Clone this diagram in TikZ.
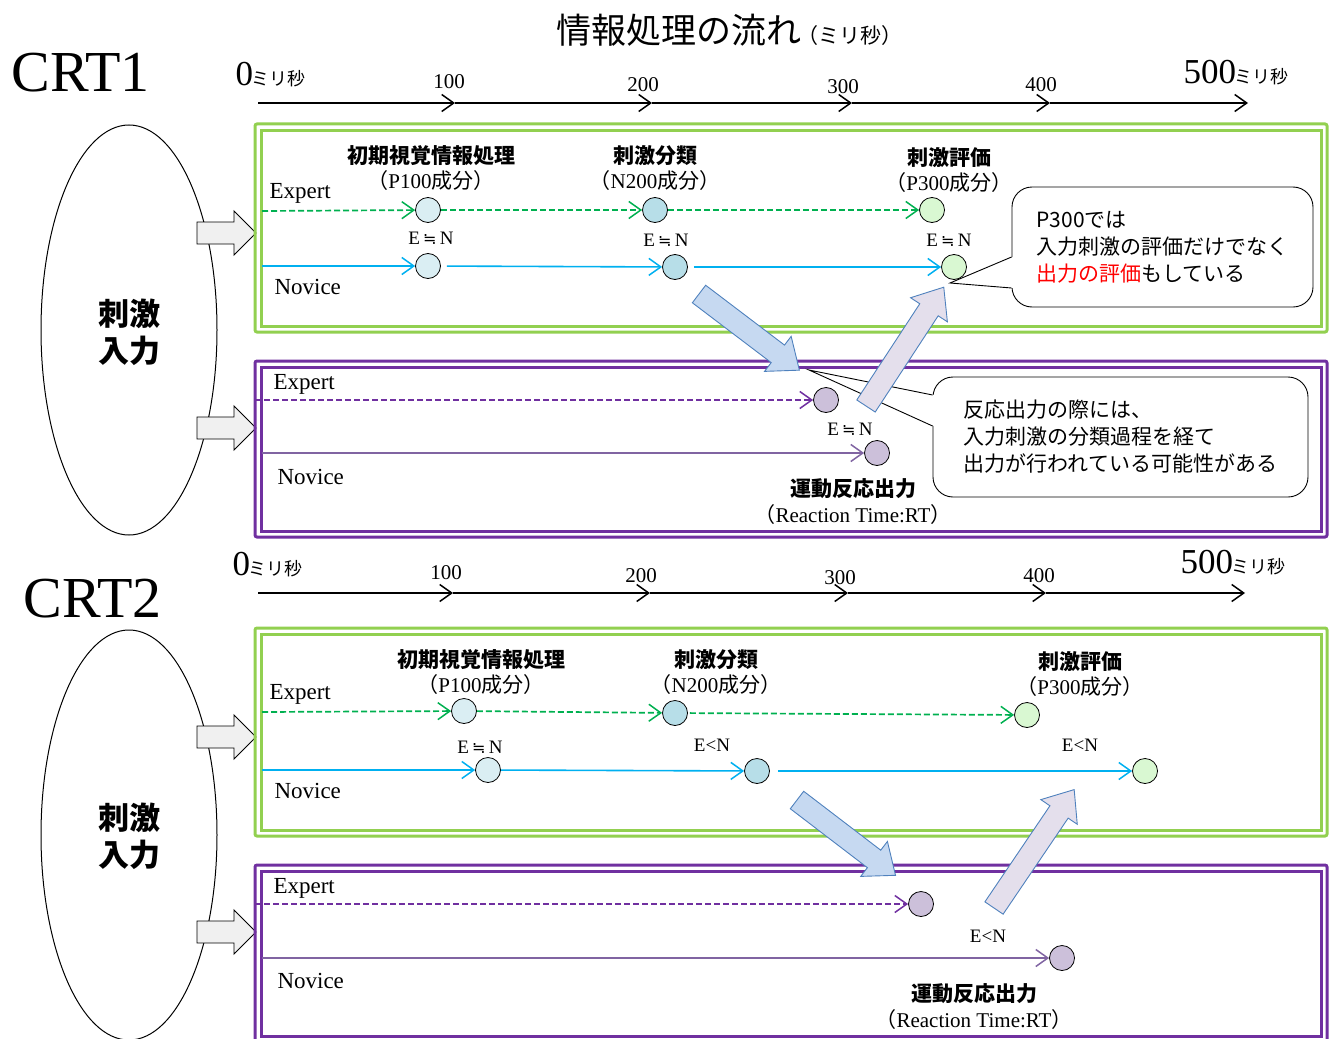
\documentclass[tikz,border=0pt]{standalone}
\usepackage{fontspec}
\setmainfont{Liberation Serif}
\newfontfamily\jp{Noto Sans CJK JP}
\newfontfamily\dv{DejaVu Sans}
\usetikzlibrary{arrows.meta,calc}
\definecolor{gbox}{HTML}{92D050}
\definecolor{pbox}{HTML}{7030A0}
\definecolor{gline}{HTML}{00B050}
\definecolor{cline}{HTML}{00B0F0}
\definecolor{pline}{HTML}{8064A2}
\definecolor{dotA}{HTML}{DAEEF3}
\definecolor{dotB}{HTML}{B7DEE8}
\definecolor{dotC}{HTML}{D9F8D2}
\definecolor{dotP}{HTML}{CCC0DA}
\definecolor{barA}{HTML}{C6D9F1}
\definecolor{barB}{HTML}{E4DFEC}
\definecolor{barEdge}{HTML}{4F81BD}
\newcommand\blkarrow[5]{%
  \draw[barEdge, line width=0.9pt, fill=#5, shift={(#1,#2)}, rotate=#3]
   (0,-11) -- ({#4-27},-11) -- ({#4-27},-22) -- (#4,0) -- ({#4-27},22) -- ({#4-27},11) -- (0,11) -- cycle;}
\newcommand\fatarrow[1]{%
  \draw[line width=0.9pt, fill=black!6] (197,#1-11) -- (234,#1-11) -- (234,#1-22) -- (256,#1) -- (234,#1+22) -- (234,#1+11) -- (197,#1+11) -- cycle;}
\newcommand\approxeq{E\,{\dv\fontsize{16}{18}\selectfont ≒}\,N}
\begin{document}
\begin{tikzpicture}[x=1pt,y=-1pt,
  tip/.style={-{Straight Barb[length=12pt,width=17pt,line width=1.5pt]}},
  tline/.style={tip, line width=1.4pt, black},
  gexp/.style={tip, gline, line width=1.7pt, dash pattern=on 6pt off 3pt},
  nov/.style={tip, cline, line width=1.6pt},
  pexp/.style={tip, pbox, line width=1.7pt, dash pattern=on 6pt off 3pt},
  pnov/.style={tip, pline, line width=1.6pt},
  dot/.style={circle, draw, line width=0.8pt, minimum size=25pt, inner sep=0pt},
  gbx/.style={gbox, line width=3pt},
  pbx/.style={pbox, line width=3pt},
  lbl/.style={font=\fontsize{23}{26}\selectfont},
  hd/.style={font=\jp\bfseries\fontsize{21}{24}\selectfont},
  sub/.style={font=\fontsize{21}{24}\selectfont},
  eqn/.style={font=\fontsize{19}{20}\selectfont},
  num/.style={font=\fontsize{21}{24}\selectfont, anchor=base},
  big/.style={font=\fontsize{35}{38}\selectfont, anchor=base west},
  crt/.style={font=\fontsize{58}{60}\selectfont, anchor=base west},
  stim/.style={font=\jp\bfseries\fontsize{31}{37}\selectfont, align=center},
  callbox/.style={draw, fill=white, rounded corners=20pt, line width=0.9pt, inner sep=0pt, align=left,
     font=\jp\fontsize{21}{27}\selectfont},
]
\useasboundingbox (0,0) rectangle (1332,1038);
\clip (0,0) rectangle (1332,1038);
\newcommand\ms{{\jp\fontsize{18}{20}\selectfont\hspace{-2pt}ミリ秒}}

% ---------- title ----------
\node[font=\jp\fontsize{35}{38}\selectfont] (title) at (729,30) {情報処理の流れ{\fontsize{21}{24}\selectfont\hspace{-4pt}（ミリ秒）}};

% ================= CRT1 =================
\node[crt] (crt1) at (8,92) {CRT1};
\node[big] (z1) at (232,86) {0\ms};
\node[big] (f1) at (1180,84) {500\ms};
\node[num] (h1a) at (449,89) {100};
\node[num] (h1b) at (643,92) {200};
\node[num] (h1c) at (843,94) {300};
\node[num] (h1d) at (1041,92) {400};
\coordinate (t10) at (258,103); \coordinate (t11) at (455,103); \coordinate (t12) at (652,103);
\coordinate (t13) at (852,103); \coordinate (t14) at (1050,103); \coordinate (t15) at (1248,103);
\draw[tline] (t10) -- (t11); \draw[tline] (t11) -- (t12); \draw[tline] (t12) -- (t13);
\draw[tline] (t13) -- (t14); \draw[tline] (t14) -- (t15);

\draw[line width=1pt] (129,330) ellipse [x radius=88, y radius=205];
\node[stim] (s1) at (129,332) {刺激\\入力};
\fatarrow{233}
\fatarrow{428}

% green box 1
\draw[gbx, rounded corners=2pt] (255,124) rectangle (1327,332);
\draw[gbx] (261,130) rectangle (1321,326);
\node[hd] (a1) at (431,156) {初期視覚情報処理};
\node[sub] (a1s) at (431,181) {\jp（\rmfamily P100\jp 成分）};
\node[hd] (a2) at (655,156) {刺激分類};
\node[sub] (a2s) at (655,181) {\jp（\rmfamily N200\jp 成分）};
\node[hd] (a3) at (949,158) {刺激評価};
\node[sub] (a3s) at (949,183) {\jp（\rmfamily P300\jp 成分）};
\node[lbl, anchor=west] (ex1) at (266,193) {Expert};
\node[lbl, anchor=west] (nv1) at (271,287) {Novice};
\node[dot, fill=dotA] (e11) at (428,210) {};
\node[dot, fill=dotB] (e12) at (655,210) {};
\node[dot, fill=dotC] (e13) at (932,210) {};
\node[dot, fill=dotA] (n11) at (428,266) {};
\node[dot, fill=dotB] (n12) at (675,267) {};
\node[dot, fill=dotC] (n13) at (954,267) {};
\coordinate (se1) at (262,211); \coordinate (sn1) at (262,266);
\draw[gexp] (se1) -- (e11);
\draw[gexp] (e11) -- (e12);
\draw[gexp] (e12) -- (e13);
\draw[nov] (sn1) -- (n11);
\draw[nov, shorten <=6pt] (n11) -- (n12);
\draw[nov, shorten <=6pt] (n12) -- (n13);
\node[eqn] (q11) at (431,238) {\approxeq};
\node[eqn] (q12) at (666,240) {\approxeq};
\node[eqn] (q13) at (949,240) {\approxeq};

% purple box 1
\draw[pbx, rounded corners=2pt] (255,361) rectangle (1327,537);
\draw[pbx] (261,367) rectangle (1321,531);
\node[lbl, anchor=west] (ex2) at (270,384) {Expert};
\node[lbl, anchor=west] (nv2) at (274,477) {Novice};
\node[dot, fill=dotP] (m11) at (826,400) {};
\node[dot, fill=dotP] (m12) at (877,453) {};
\coordinate (sp1) at (255,400); \coordinate (sq1) at (262,453);
\draw[pexp] (sp1) -- (m11);
\draw[pnov] (sq1) -- (m12);
\node[eqn] (q14) at (850,429) {\approxeq};
\node[hd] (r1) at (853,489) {運動反応出力};
\node[sub] (r1s) at (853,515) {\jp（\rmfamily Reaction Time:RT\jp ）};

% callouts 1
\node[callbox, minimum width=301pt, minimum height=120pt] (cb1) at (1162.5,247)
  {P300では\\入力刺激の評価だけでなく\\\textcolor{red}{出力の評価}もしている};
\coordinate (tip1) at (950,283);
\fill[white] ($(cb1.west)+(1.5,10)$) -- (tip1) -- ($(cb1.west)+(1.5,41)$) -- cycle;
\draw[line width=0.9pt] ($(cb1.west)+(0,10)$) -- (tip1) -- ($(cb1.west)+(0,41)$);

\node[callbox, minimum width=375pt, minimum height=120pt] (cb2) at (1120.5,437)
  {反応出力の際には、\\入力刺激の分類過程を経て\\出力が行われている可能性がある};
\coordinate (tip2) at (809,370);
\fill[white] ($(cb2.west)+(1.5,-42)$) -- (tip2) -- ($(cb2.west)+(1.5,-11)$) -- cycle;
\draw[line width=0.9pt] ($(cb2.west)+(0,-42)$) -- (tip2) -- ($(cb2.west)+(0,-11)$);

\blkarrow{699}{294}{-37.2}{126}{barA}
\blkarrow{866}{406}{56.8}{142}{barB}

% ================= CRT2 =================
\node[crt] (crt2) at (20,617) {CRT2};
\node[big] (z2) at (229,575) {0\ms};
\node[big] (f2) at (1177,573) {500\ms};
\node[num] (h2a) at (446,579) {100};
\node[num] (h2b) at (641,582) {200};
\node[num] (h2c) at (840,584) {300};
\node[num] (h2d) at (1039,582) {400};
\coordinate (t20) at (258,593); \coordinate (t21) at (453,593); \coordinate (t22) at (650,593);
\coordinate (t23) at (848,593); \coordinate (t24) at (1046,593); \coordinate (t25) at (1245,593);
\draw[tline] (t20) -- (t21); \draw[tline] (t21) -- (t22); \draw[tline] (t22) -- (t23);
\draw[tline] (t23) -- (t24); \draw[tline] (t24) -- (t25);

\draw[line width=1pt] (129,835) ellipse [x radius=88, y radius=205];
\node[stim] (s2) at (129,836) {刺激\\入力};
\fatarrow{737}
\fatarrow{932}

% green box 2
\draw[gbx, rounded corners=2pt] (255,628) rectangle (1327,836);
\draw[gbx] (261,634) rectangle (1321,830);
\node[hd] (b1) at (481,660) {初期視覚情報処理};
\node[sub] (b1s) at (481,685) {\jp（\rmfamily P100\jp 成分）};
\node[hd] (b2) at (716,660) {刺激分類};
\node[sub] (b2s) at (716,685) {\jp（\rmfamily N200\jp 成分）};
\node[hd] (b3) at (1080,662) {刺激評価};
\node[sub] (b3s) at (1080,687) {\jp（\rmfamily P300\jp 成分）};
\node[lbl, anchor=west] (ex3) at (266,694) {Expert};
\node[lbl, anchor=west] (nv3) at (271,791) {Novice};
\node[dot, fill=dotA] (e21) at (464,711) {};
\node[dot, fill=dotB] (e22) at (675,713) {};
\node[dot, fill=dotC] (e23) at (1027,715) {};
\node[dot, fill=dotA] (n21) at (488,770) {};
\node[dot, fill=dotB] (n22) at (757,771) {};
\node[dot, fill=dotC] (n23) at (1145,771) {};
\coordinate (se2) at (262,712); \coordinate (sn2) at (262,770);
\draw[gexp] (se2) -- (e21);
\draw[gexp] (e21) -- (e22);
\draw[gexp, shorten <=2pt] (e22) -- (e23);
\draw[nov] (sn2) -- (n21);
\draw[nov] (n21) -- (n22);
\draw[nov, shorten <=8pt] (n22) -- (n23);
\node[eqn] (q21) at (480,747) {\approxeq};
\node[eqn] (q22) at (712,745) {E<N};
\node[eqn] (q23) at (1080,745) {E<N};

% purple box 2
\draw[pbx, rounded corners=2pt] (255,865) rectangle (1327,1042);
\draw[pbx] (261,871) rectangle (1321,1036);
\node[lbl, anchor=west] (ex4) at (270,888) {Expert};
\node[lbl, anchor=west] (nv4) at (274,981) {Novice};
\node[dot, fill=dotP] (m21) at (921,904) {};
\node[dot, fill=dotP] (m22) at (1062,958) {};
\coordinate (sp2) at (255,904); \coordinate (sq2) at (262,958);
\draw[pexp] (sp2) -- (m21);
\draw[pnov] (sq2) -- (m22);
\node[eqn] (q24) at (988,936) {E<N};
\node[hd] (r2) at (974,994) {運動反応出力};
\node[sub] (r2s) at (974,1020) {\jp（\rmfamily Reaction Time:RT\jp ）};

\blkarrow{797}{800}{-37.4}{124}{barA}
\blkarrow{994}{908}{55.9}{143}{barB}
\end{tikzpicture}
\end{document}
